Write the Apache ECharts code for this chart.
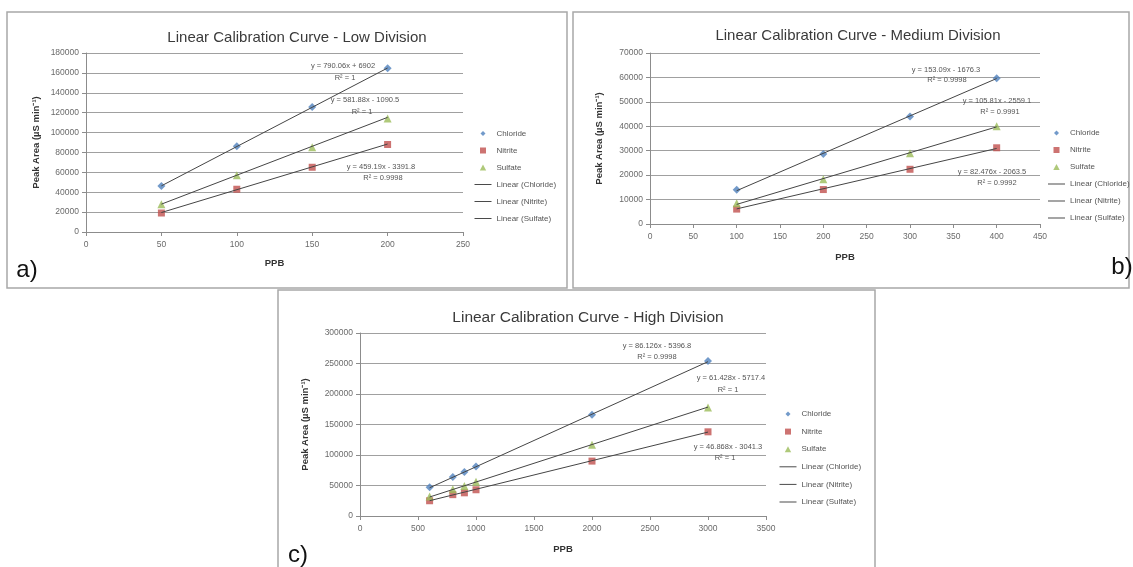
<!DOCTYPE html>
<html><head><meta charset="utf-8">
<script src="https://cdn.jsdelivr.net/npm/echarts@6/dist/echarts.min.js"></script>
<style>html,body{margin:0;padding:0;background:#fff}#c{width:1133px;height:567px}</style>
</head><body><div id="c"></div>
<script>
// ---------- data ----------
const speciesNames = ['Chloride', 'Nitrite', 'Sulfate'];
const trendNames = ['Linear (Chloride)', 'Linear (Nitrite)', 'Linear (Sulfate)'];
const panelTitles = ['Linear Calibration Curve - Low Division', 'Linear Calibration Curve - Medium Division', 'Linear Calibration Curve - High Division'];
const panelLetters = ['a)', 'b)', 'c)'];
const xAxisName = 'PPB';
const yAxisName = 'Peak Area (µS min⁻¹)';

// Low division
const lowPPB = [50, 100, 150, 200];
const lowChloride = [46300, 86300, 125600, 164600];
const lowNitrite = [19100, 43000, 65100, 88000];
const lowSulfate = [27900, 57100, 85300, 114200];
const lowSlope = [790.06, 459.19, 581.88];
const lowIntercept = [6902, -3391.8, -1090.5];
const lowEquation = ['y = 790.06x + 6902', 'y = 459.19x - 3391.8', 'y = 581.88x - 1090.5'];
const lowR2 = ['R² = 1', 'R² = 0.9998', 'R² = 1'];
const lowXTicks = [0, 250, 50];      // min, max, step
const lowYTicks = [0, 180000, 20000];

// Medium division
const medPPB = [100, 200, 300, 400];
const medChloride = [14000, 28700, 44000, 59700];
const medNitrite = [6100, 14100, 22400, 31200];
const medSulfate = [8500, 18300, 29000, 40000];
const medSlope = [153.09, 82.476, 105.81];
const medIntercept = [-1676.3, -2063.5, -2559.1];
const medEquation = ['y = 153.09x - 1676.3', 'y = 82.476x - 2063.5', 'y = 105.81x - 2559.1'];
const medR2 = ['R² = 0.9998', 'R² = 0.9992', 'R² = 0.9991'];
const medXTicks = [0, 450, 50];
const medYTicks = [0, 70000, 10000];

// High division
const highPPB = [600, 800, 900, 1000, 2000, 3000];
const highChloride = [47000, 64000, 72000, 81000, 166000, 254000];
const highNitrite = [25000, 35000, 38000, 43000, 90000, 138000];
const highSulfate = [32000, 44000, 49000, 56000, 117000, 178000];
const highSlope = [86.126, 46.868, 61.428];
const highIntercept = [-5396.8, -3041.3, -5717.4];
const highEquation = ['y = 86.126x - 5396.8', 'y = 46.868x - 3041.3', 'y = 61.428x - 5717.4'];
const highR2 = ['R² = 0.9998', 'R² = 1', 'R² = 1'];
const highXTicks = [0, 3500, 500];
const highYTicks = [0, 300000, 50000];

// ---------- layout / style ----------
const FONT = '"Liberation Sans", Arial, sans-serif';
const colors = ['#4F81BD', '#C0504D', '#9BBB59'];
const symbols = ['diamond', 'rect', 'triangle'];
const symbolSizes = [8, 7, 8];
const trendColor = '#454545';
// legend icons drawn inside a 17x6 box so they are not stretched
const legendSymbolIcons = [
  'path://M0,0 M17,6 M8.5,0.5 L11,3 L8.5,5.5 L6,3 Z',
  'path://M0,0 M17,6 M5.5,0 L11.5,0 L11.5,6 L5.5,6 Z',
  'path://M0,0 M17,6 M8.5,0 L11.7,6 L5.3,6 Z'
];
const legendLineIcon = 'path://M0,0 M17,6 M0,2.5 L17,2.5 L17,3.5 L0,3.5 Z';

const panels = [
  { ppb: lowPPB, ys: [lowChloride, lowNitrite, lowSulfate], slope: lowSlope, icpt: lowIntercept,
    eq: lowEquation, r2: lowR2, xt: lowXTicks, yt: lowYTicks,
    grid: { left: 86, top: 53, width: 377, height: 179 },
    title: [292, 25], legend: [474.5, 128.5, 7], letter: [27, 270],
    eqPos: [[343, 66, 345, 78], [381, 167, 383, 178], [365, 100, 362, 112]],
    yGap: 45, xGap: 26, frame: [7, 12, 560, 276] },
  { ppb: medPPB, ys: [medChloride, medNitrite, medSulfate], slope: medSlope, icpt: medIntercept,
    eq: medEquation, r2: medR2, xt: medXTicks, yt: medYTicks,
    grid: { left: 650, top: 53, width: 390, height: 171 },
    title: [853, 23], legend: [1048, 128, 7], letter: [1122, 267],
    eqPos: [[946, 70, 947, 80], [992, 172, 997, 183], [997, 101, 1000, 112]],
    yGap: 46, xGap: 28, frame: [573, 12, 556, 276] },
  { ppb: highPPB, ys: [highChloride, highNitrite, highSulfate], slope: highSlope, icpt: highIntercept,
    eq: highEquation, r2: highR2, xt: highXTicks, yt: highYTicks,
    grid: { left: 360, top: 333, width: 406, height: 183 },
    title: [583, 305], legend: [779.5, 409, 7.6], letter: [298, 555],
    eqPos: [[657, 346, 657, 357], [728, 447, 725, 458], [731, 378, 728, 390]],
    yGap: 50, xGap: 28, frame: [278, 290, 597, 290] }
];

const option = {
  backgroundColor: '#fff',
  animation: false,
  title: [], legend: [], grid: [], xAxis: [], yAxis: [], series: [], graphic: []
};

const legendData = speciesNames.map((n, k) => ({ name: n, icon: legendSymbolIcons[k], itemStyle: { color: colors[k] } }))
  .concat(trendNames.map(n => ({ name: n, icon: legendLineIcon, itemStyle: { color: '#4a4a4a' } })));

panels.forEach((p, i) => {
  option.grid.push(Object.assign({ containLabel: false }, p.grid));
  option.title.push({
    text: panelTitles[i], left: p.title[0], top: p.title[1], textAlign: 'center',
    textStyle: { fontFamily: FONT, fontSize: i === 2 ? 15.5 : 15, fontWeight: 'normal', color: '#3a3a3a' }
  });
  option.legend.push({
    orient: 'vertical', left: p.legend[0], top: p.legend[1], itemGap: p.legend[2],
    itemWidth: 17, itemHeight: 6, padding: 0, symbolKeepAspect: false,
    data: legendData,
    textStyle: { fontFamily: FONT, fontSize: 8, color: '#555', lineHeight: 10 }
  });
  const axisCommon = {
    axisLine: { show: true, lineStyle: { color: '#8c8c8c', width: 1 } },
    axisTick: { show: true, length: 4, lineStyle: { color: '#8c8c8c' } },
    axisLabel: { fontFamily: FONT, fontSize: 8.5, color: '#6a6a6a', formatter: v => String(v) },
    nameTextStyle: { fontFamily: FONT, fontSize: 9.5, fontWeight: 'bold', color: '#333' }
  };
  option.xAxis.push(Object.assign({}, axisCommon, {
    type: 'value', gridIndex: i, min: p.xt[0], max: p.xt[1], interval: p.xt[2],
    name: xAxisName, nameLocation: 'middle', nameGap: p.xGap,
    splitLine: { show: false },
    axisLabel: Object.assign({}, axisCommon.axisLabel, { margin: 8 })
  }));
  option.yAxis.push(Object.assign({}, axisCommon, {
    type: 'value', gridIndex: i, min: p.yt[0], max: p.yt[1], interval: p.yt[2],
    name: yAxisName, nameLocation: 'middle', nameRotate: 90, nameGap: p.yGap,
    splitLine: { show: true, lineStyle: { color: '#a0a0a0', width: 1 } },
    axisLabel: Object.assign({}, axisCommon.axisLabel, { margin: 7 })
  }));
  // trend lines (from the printed fit equations, over the measured range)
  const x0 = Math.min.apply(null, p.ppb), x1 = Math.max.apply(null, p.ppb);
  for (let k = 0; k < 3; k++) {
    option.series.push({
      type: 'line', name: trendNames[k], xAxisIndex: i, yAxisIndex: i,
      symbol: 'none', z: 3, silent: true,
      lineStyle: { color: trendColor, width: 1 },
      itemStyle: { color: trendColor },
      data: [[x0, p.slope[k] * x0 + p.icpt[k]], [x1, p.slope[k] * x1 + p.icpt[k]]]
    });
  }
  for (let k = 0; k < 3; k++) {
    option.series.push({
      type: 'scatter', name: speciesNames[k], xAxisIndex: i, yAxisIndex: i,
      symbol: symbols[k], symbolSize: symbolSizes[k], z: 2,
      itemStyle: { color: colors[k] },
      data: p.ppb.map((x, j) => [x, p.ys[k][j]])
    });
  }
  // frame
  option.graphic.push({
    type: 'rect', shape: { x: p.frame[0], y: p.frame[1], width: p.frame[2], height: p.frame[3] },
    style: { fill: 'none', stroke: '#a8a8a8', lineWidth: 1.5 }, z: -1, silent: true
  });
  // letter
  option.graphic.push({
    type: 'text', x: p.letter[0], y: p.letter[1],
    style: { text: panelLetters[i], fontFamily: FONT, fontSize: 24, fill: '#111', align: 'center', verticalAlign: 'middle' }
  });
  // equations
  for (let k = 0; k < 3; k++) {
    const e = p.eqPos[k];
    option.graphic.push({
      type: 'text', x: e[0], y: e[1], z: 10,
      style: { text: p.eq[k], fontFamily: FONT, fontSize: 7.5, fill: '#555', align: 'center', verticalAlign: 'middle' }
    });
    option.graphic.push({
      type: 'text', x: e[2], y: e[3], z: 10,
      style: { text: p.r2[k], fontFamily: FONT, fontSize: 7.5, fill: '#555', align: 'center', verticalAlign: 'middle' }
    });
  }
});

const chart = echarts.init(document.getElementById('c'));
chart.setOption(option);
</script>
</body></html>
